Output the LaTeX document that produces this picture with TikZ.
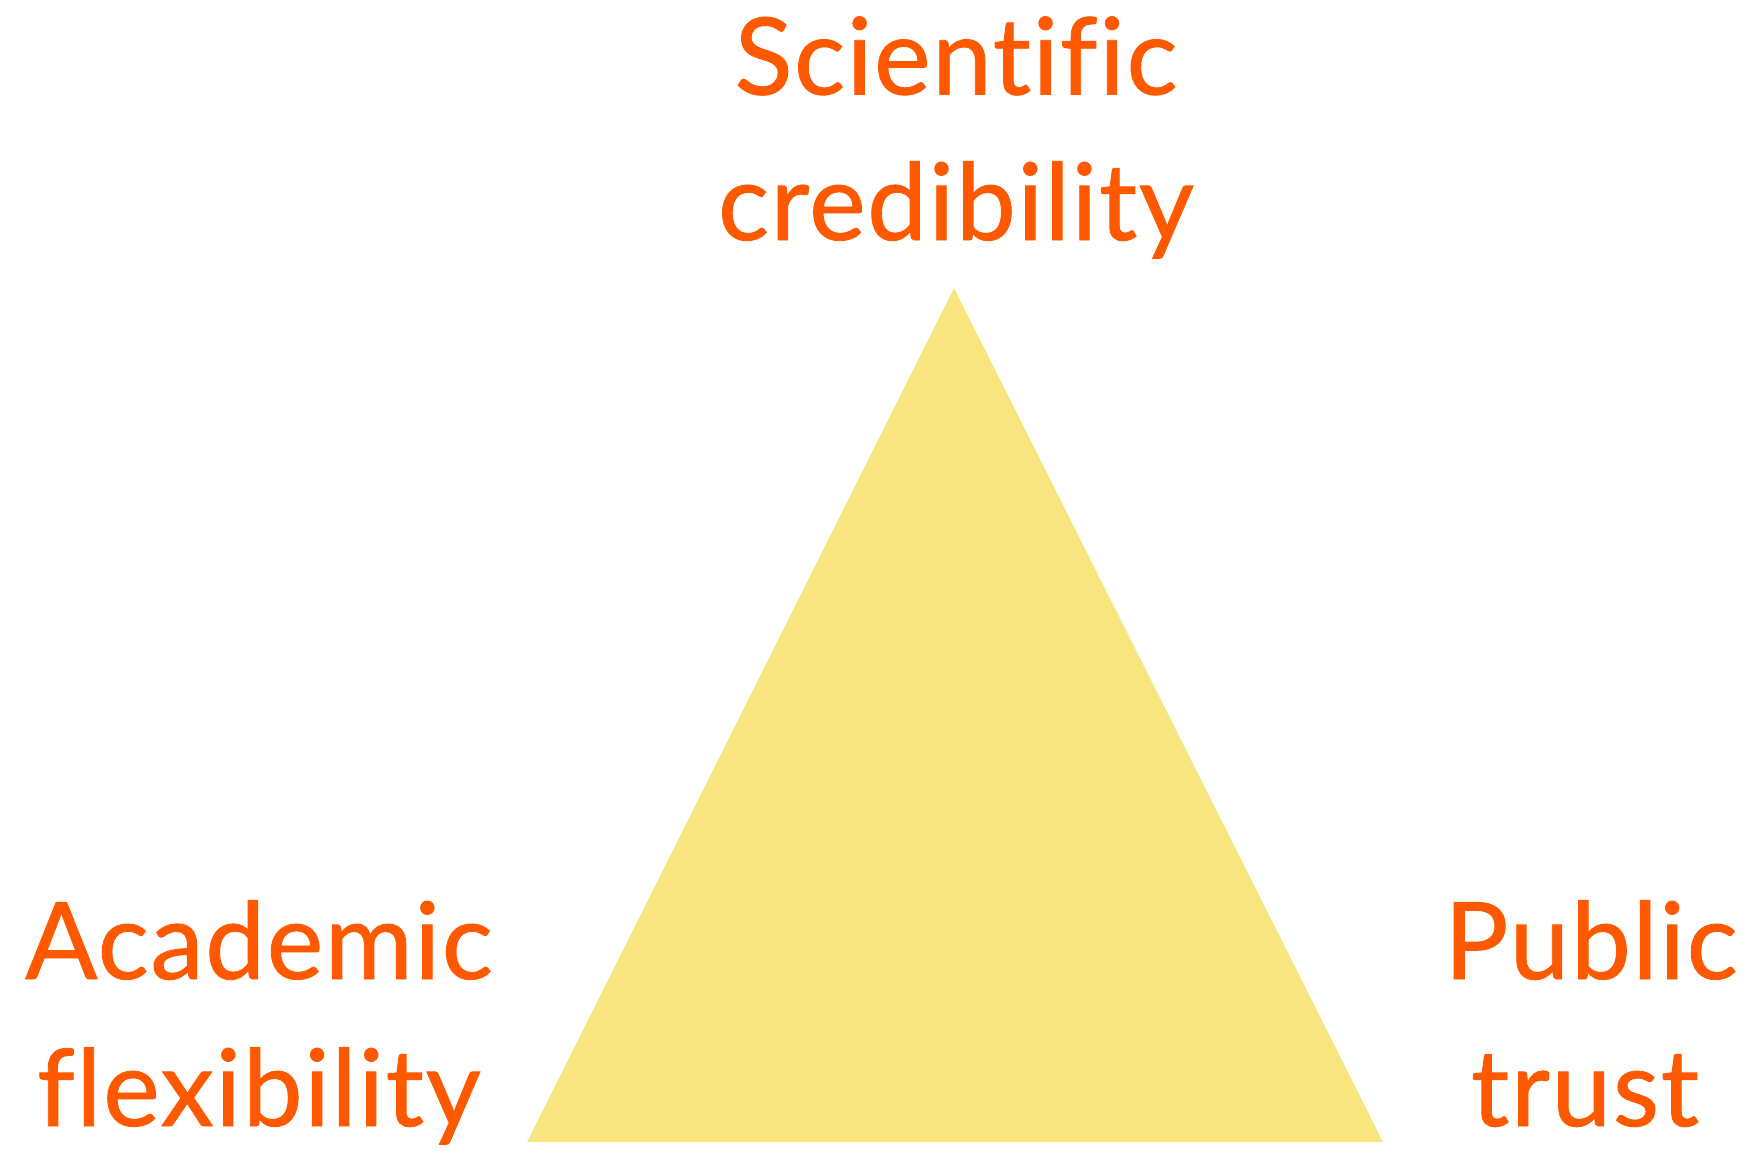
\documentclass[tikz,border=0pt]{standalone}
\usepackage{fontspec}
\setmainfont{Lato}[Ligatures=NoCommon, FakeBold=0.8, LetterSpace=1.5]
\definecolor{labelorange}{RGB}{255,89,0}
\definecolor{triyellow}{RGB}{249,229,128}
\tikzset{
  label/.style={anchor=base, inner sep=0pt, outer sep=0pt, text=labelorange,
    font=\fontsize{107}{130}\selectfont}
}
\begin{document}
\begin{tikzpicture}[x=1pt,y=-1pt]
\useasboundingbox (0,0) rectangle (1743,1151);
\coordinate (apex) at (954,288);
\coordinate (bl) at (527,1142);
\coordinate (br) at (1383,1142);
\fill[triyellow] (apex) -- (bl) -- (br) -- cycle;
\node[label] (sci1) at (956,94.5) {Scientific};
\node[label] (sci2) at (956,240) {credibility};
\node[label] (aca1) at (259,979) {Academic};
\node[label] (aca2) at (259,1126) {flexibility};
\node[label] (pub1) at (1591,979) {Public};
\node[label] (pub2) at (1585,1126) {trust};
\end{tikzpicture}
\end{document}
